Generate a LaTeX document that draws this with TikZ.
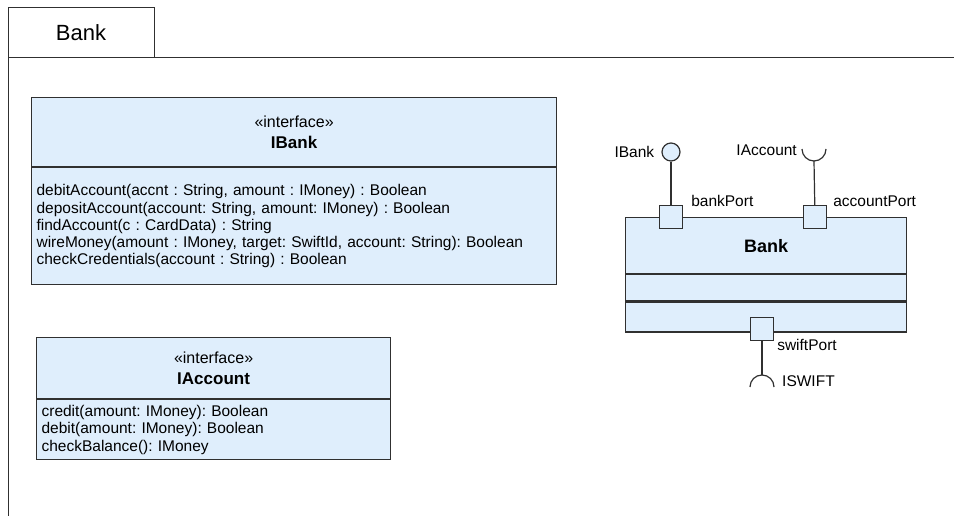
\documentclass[tikz,border=0pt]{standalone}
\usepackage{fontspec}
\setmainfont{Liberation Sans}
\usepackage{xcolor}
\definecolor{cLine}{HTML}{303030}
\definecolor{cFill}{HTML}{DFEEFC}
\usetikzlibrary{positioning}
\frenchspacing
\newcommand{\opsfont}{\fontsize{15.5}{17.3}\selectfont}
\newcommand{\stereofont}{\fontsize{16}{20.5}\selectfont}
\newcommand{\namefont}{\fontsize{17}{20}\selectfont\bfseries}
\tikzset{
  frame-line/.style={draw=cLine,line width=1pt},
  uml-head/.style={draw=cLine,line width=1.2pt,fill=cFill,align=center,
    inner sep=0pt,anchor=north west,font=\stereofont},
  uml-body/.style={draw=cLine,line width=1.2pt,fill=cFill,align=left,
    inner xsep=5pt,inner ysep=0pt,anchor=north west,font=\opsfont},
  port-box/.style={draw=cLine,line width=1.2pt,fill=cFill,minimum size=23pt,
    inner sep=0pt},
  ball/.style={draw=cLine,line width=1.2pt,fill=cFill,circle,minimum size=18pt,
    inner sep=0pt},
  wire/.style={draw=cLine,line width=1.2pt},
  lbl/.style={font=\fontsize{15.5}{18}\selectfont,inner sep=0pt},
}
\begin{document}
\begin{tikzpicture}[x=1pt,y=-1pt]
  \useasboundingbox (0,0) rectangle (954,516);
  % frame with name tab
  \draw[frame-line] (8,516) -- (8,8) -- (154,8) -- (154,58);
  \draw[frame-line] (8,58) -- (954,58);
  \node[font=\fontsize{22}{24}\selectfont] (frame-name) at (81,33) {Bank};

  % IBank
  \node[uml-head,minimum width=525pt,minimum height=69pt] (ibank-head) at (31,97)
    {«interface»\\{\namefont IBank}};
  \node[uml-body,minimum width=525pt,minimum height=117pt,text width=515pt,
    below=0pt of ibank-head.south west,anchor=north west] (ibank-ops) {%
    debitAccount(accnt : String, amount : IMoney) : Boolean\\
    depositAccount(account: String, amount: IMoney) : Boolean\\
    findAccount(c : CardData) : String\\
    wireMoney(amount : IMoney, target: SwiftId, account: String): Boolean\\
    checkCredentials(account : String) : Boolean};

  % IAccount
  \node[uml-head,minimum width=354pt,minimum height=61pt] (iacc-head) at (36,337)
    {«interface»\\{\namefont IAccount}};
  \node[uml-body,minimum width=354pt,minimum height=60pt,text width=344pt,
    below=0pt of iacc-head.south west,anchor=north west] (iacc-ops) {%
    credit(amount: IMoney): Boolean\\
    debit(amount: IMoney): Boolean\\
    checkBalance(): IMoney};

  % Bank component
  \node[uml-head,minimum width=281pt,minimum height=56pt,
    font=\fontsize{18}{20}\selectfont\bfseries] (bank-head) at (625,217) {Bank};
  \node[uml-head,minimum width=281pt,minimum height=26pt,
    below=0pt of bank-head.south west,anchor=north west] (bank-attr) {};
  \node[uml-head,minimum width=281pt,minimum height=30pt,
    below=0pt of bank-attr.south west,anchor=north west] (bank-ops) {};

  % ports
  \node[port-box] (bank-port) at (671,217) {};
  \node[port-box] (acc-port) at (815,217) {};
  \node[port-box] (swift-port) at (762,329) {};
  \node[lbl,anchor=west] at ([xshift=8pt,yshift=16pt]bank-port.east) {bankPort};
  \node[lbl,anchor=west] at ([xshift=6pt,yshift=16pt]acc-port.east) {accountPort};
  \node[lbl,anchor=west] at ([xshift=3pt,yshift=-16pt]swift-port.east) {swiftPort};

  % provided interface
  \node[ball] (ibank-ball) at (671,152) {};
  \node[lbl,left=7pt of ibank-ball] {IBank};
  \draw[wire] (ibank-ball) -- (bank-port);

  % required interfaces
  \coordinate (iacc-sock) at (814,161);
  \draw[wire] (iacc-sock) ++(-12,-12) arc[start angle=180,end angle=360,radius=12pt];
  \node[lbl,anchor=east] at ([xshift=-17pt,yshift=11pt]iacc-sock) {IAccount};
  \draw[wire] (iacc-sock) -- (acc-port);

  \coordinate (swift-sock) at (762,375);
  \draw[wire] (swift-sock) ++(-12,12) arc[start angle=180,end angle=0,radius=12pt];
  \node[lbl,anchor=west] at ([xshift=20pt,yshift=-6pt]swift-sock) {ISWIFT};
  \draw[wire] (swift-port) -- (swift-sock);
\end{tikzpicture}
\end{document}
